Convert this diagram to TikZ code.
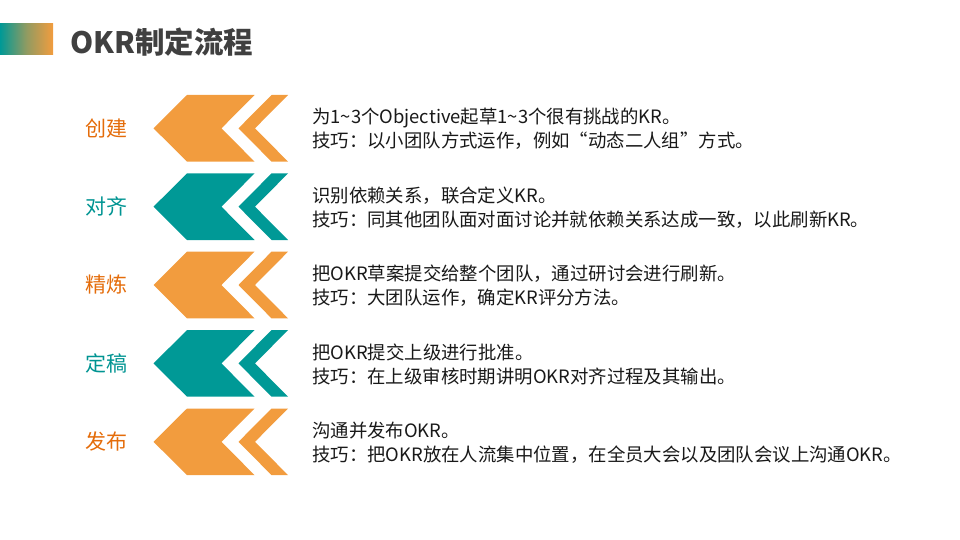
\documentclass[tikz,border=0pt]{standalone}
\usepackage{fontspec}
\setmainfont{Noto Sans CJK SC}
\definecolor{okrorange}{RGB}{242,156,62}
\definecolor{okrteal}{RGB}{0,153,150}
\definecolor{labelorange}{RGB}{228,108,10}
\definecolor{labelteal}{RGB}{0,148,146}
\definecolor{titlegray}{RGB}{64,64,64}
\tikzset{
  steplabel/.style={font=\fontsize{21}{24}\selectfont},
  steptext/.style={anchor=west, inner sep=0pt, align=left,
    font=\fontsize{18.4}{24}\selectfont, text=black!90},
}

\begin{document}
\begin{tikzpicture}[x=1pt, y=-1pt]
      \useasboundingbox (0,0) rectangle (960,540);
      % title
      \shade[left color=okrteal, right color=okrorange, middle color=okrorange!60!okrteal]
        (0,24) rectangle (53,55);
      \node[anchor=west, inner sep=0pt, text=titlegray,
        font=\fontsize{29.5}{34}\selectfont\bfseries] (title) at (70,42) {OKR制定流程};
      % chevrons
      \foreach \y/\c in {128.3/okrorange, 206.7/okrteal, 285/okrorange,
          363.4/okrteal, 441.8/okrorange} {
        \fill[\c] (153.5,\y) -- (187,\y-33.3) -- (254.5,\y-33.3) -- (221.5,\y)
          -- (254.5,\y+33.3) -- (187,\y+33.3) -- cycle;
        \fill[\c] (238.5,\y) -- (271.5,\y-33.3) -- (288,\y-33.3) -- (255,\y)
          -- (288,\y+33.3) -- (271.5,\y+33.3) -- cycle;
      }
      % labels
      \node[steplabel, text=labelorange] (create) at (106,128.3) {创建};
      \node[steplabel, text=labelteal] (align) at (106,206.7) {对齐};
      \node[steplabel, text=labelorange] (refine) at (106,285) {精炼};
      \node[steplabel, text=labelteal] (finalize) at (106,363.4) {定稿};
      \node[steplabel, text=labelorange] (publish) at (106,441.8) {发布};
      % descriptions
      \node[steptext] (createtext) at (312,129)
        {为1\textasciitilde3个Objective起草1\textasciitilde3个很有挑战的KR。\\
         技巧：以小团队方式运作，例如“动态二人组”方式。};
      \node[steptext] (aligntext) at (312,207.4)
        {识别依赖关系，联合定义KR。\\
         技巧：同其他团队面对面讨论并就依赖关系达成一致，以此刷新KR。};
      \node[steptext] (refinetext) at (312,285.7)
        {把OKR草案提交给整个团队，通过研讨会进行刷新。\\
         技巧：大团队运作，确定KR评分方法。};
      \node[steptext] (finalizetext) at (312,364.1)
        {把OKR提交上级进行批准。\\
         技巧：在上级审核时期讲明OKR对齐过程及其输出。};
      \node[steptext] (publishtext) at (312,442.5)
        {沟通并发布OKR。\\
         技巧：把OKR放在人流集中位置，在全员大会以及团队会议上沟通OKR。};
    \end{tikzpicture}
\end{document}
